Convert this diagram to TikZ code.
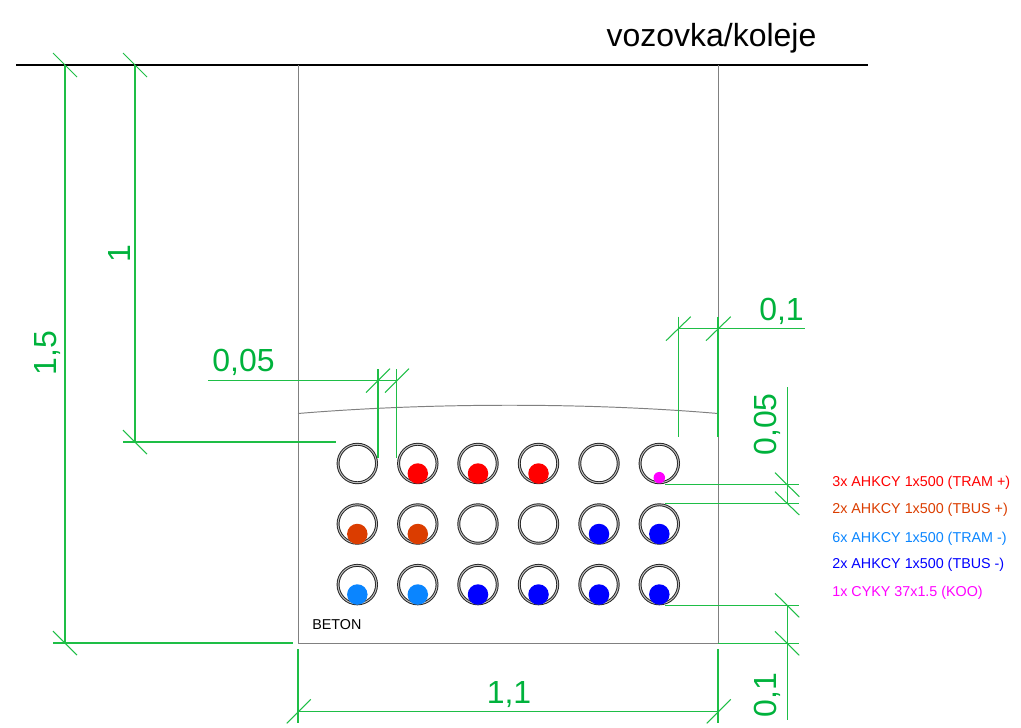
\documentclass[tikz,border=0pt]{standalone}
\usepackage{fontspec}
\setmainfont{Liberation Sans}
\definecolor{kotagreen}{RGB}{30,190,70}
\definecolor{kotatext}{RGB}{0,178,60}
\definecolor{tramplus}{RGB}{255,0,0}
\definecolor{tbusplus}{RGB}{219,61,0}
\definecolor{trammin}{RGB}{10,133,255}
\definecolor{tbusmin}{RGB}{0,0,255}
\definecolor{koo}{RGB}{255,0,255}
\begin{document}
\begin{tikzpicture}[x=0.02cm,y=-0.02cm]
\useasboundingbox (0,0) rectangle (1021,727);

\tikzstyle{outline}=[draw=black!50,line width=0.55pt]
\tikzstyle{kota}=[draw=kotagreen,line width=0.6pt]
\tikzstyle{kotatxt}=[text=kotatext,inner sep=0pt,anchor=base,font=\fontsize{18.2}{20}\selectfont]
\tikzstyle{legend}=[inner sep=0pt,anchor=base west,font=\fontsize{8.15}{10}\selectfont]
\tikzstyle{tube}=[circle,draw=black!85,double=black!25,line width=0.55pt,double distance=0.55pt,minimum size=0.77cm,inner sep=0pt]
\tikzstyle{cable}=[circle,minimum size=0.41cm,inner sep=0pt]
\tikzstyle{thin cable}=[circle,fill=koo,minimum size=0.23cm,inner sep=0pt]

%road and concrete block
\draw[line width=1.1pt] (16,65) -- (868,65) ;
\node (road) at (711.5,46) [anchor=base,inner sep=0pt,font=\fontsize{18.2}{20}\selectfont] {vozovka/koleje} ;
\draw[outline] (298,65) -- (298,643) -- (718,643) -- (718,65) ;
\draw[outline] (298,413.5) .. controls (430,402.5) and (590,402.5) .. (718,413.5) ;
\node (beton) at (312,629) [legend] {BETON} ;

%tubes
\node[tube] (t11) at (357.3,463.5) {} ; \node[tube] (t12) at (417.8,463.5) {} ; \node[tube] (t13) at (478,463.5) {} ;
\node[tube] (t14) at (538.5,463.5) {} ; \node[tube] (t15) at (599,463.5) {} ; \node[tube] (t16) at (659.3,463.5) {} ;
\node[tube] (t21) at (357.3,524) {} ; \node[tube] (t22) at (417.8,524) {} ; \node[tube] (t23) at (478,524) {} ;
\node[tube] (t24) at (538.5,524) {} ; \node[tube] (t25) at (599,524) {} ; \node[tube] (t26) at (659.3,524) {} ;
\node[tube] (t31) at (357.3,584.6) {} ; \node[tube] (t32) at (417.8,584.6) {} ; \node[tube] (t33) at (478,584.6) {} ;
\node[tube] (t34) at (538.5,584.6) {} ; \node[tube] (t35) at (599,584.6) {} ; \node[tube] (t36) at (659.3,584.6) {} ;

%cables
\node[cable,fill=tramplus] (c12) at (417.8,473.5) {} ;
\node[cable,fill=tramplus] (c13) at (478,473.5) {} ;
\node[cable,fill=tramplus] (c14) at (538.5,473.5) {} ;
\node[thin cable] (c16) at (659.3,477.7) {} ;
\node[cable,fill=tbusplus] (c21) at (357.3,534) {} ;
\node[cable,fill=tbusplus] (c22) at (417.8,534) {} ;
\node[cable,fill=tbusmin] (c25) at (599,534) {} ;
\node[cable,fill=tbusmin] (c26) at (659.3,534) {} ;
\node[cable,fill=trammin] (c31) at (357.3,594.5) {} ;
\node[cable,fill=trammin] (c32) at (417.8,594.5) {} ;
\node[cable,fill=tbusmin] (c33) at (478,594.5) {} ;
\node[cable,fill=tbusmin] (c34) at (538.5,594.5) {} ;
\node[cable,fill=tbusmin] (c35) at (599,594.5) {} ;
\node[cable,fill=tbusmin] (c36) at (659.3,594.5) {} ;

%legend
\node[legend,text=tramplus] (l1) at (832,486) {3x AHKCY 1x500 (TRAM +)} ;
\node[legend,text=tbusplus] (l2) at (832,513) {2x AHKCY 1x500 (TBUS +)} ;
\node[legend,text=trammin] (l3) at (832,542) {6x AHKCY 1x500 (TRAM -)} ;
\node[legend,text=tbusmin] (l4) at (832,568) {2x AHKCY 1x500 (TBUS -)} ;
\node[legend,text=koo] (l5) at (832,596) {1x CYKY 37x1.5 (KOO)} ;

%dimension 1,5
\draw[kota] (65,65) -- (65,643) ;
\draw[kota] (53,53) -- (77,77) ;
\draw[kota] (53,631) -- (77,655) ;
\draw[kota] (53,643) -- (293,643) ;
\node[kotatxt,rotate=90] (d15) at (56,353) {1,5} ;

%dimension 1
\draw[kota] (135,65) -- (135,442) ;
\draw[kota] (123,53) -- (147,77) ;
\draw[kota] (123,430) -- (147,454) ;
\draw[kota] (123,442) -- (336,442) ;
\node[kotatxt,rotate=90] (d1) at (130,254) {1} ;

%dimension 0,05 top
\draw[kota] (208,380.7) -- (396.7,380.7) ;
\draw[kota] (378,369) -- (378,457.7) ;
\draw[kota] (396.7,369) -- (396.7,457.7) ;
\draw[kota] (366,392.5) -- (390,368.7) ;
\draw[kota] (385,392.5) -- (409,368.7) ;
\node[kotatxt] (d005a) at (243.5,371) {0,05} ;

%dimension 0,1 top
\draw[kota] (678.3,328.3) -- (805,328.3) ;
\draw[kota] (678.3,316.7) -- (678.3,437.3) ;
\draw[kota] (718,316.7) -- (718,437.3) ;
\draw[kota] (666,340.7) -- (690.7,316.7) ;
\draw[kota] (706,340.7) -- (730.7,316.7) ;
\node[kotatxt] (d01a) at (781.5,320) {0,1} ;

%dimension 0,05 right
\draw[kota] (787.3,387.3) -- (787.3,503.3) ;
\draw[kota] (665,484.3) -- (799.3,484.3) ;
\draw[kota] (665,503.3) -- (799.3,503.3) ;
\draw[kota] (775,472.7) -- (799.3,496.7) ;
\draw[kota] (775,491.7) -- (799.3,515) ;
\node[kotatxt,rotate=90] (d005b) at (776.7,424.5) {0,05} ;

%dimension 0,1 right
\draw[kota] (787.3,605.7) -- (787.3,720) ;
\draw[kota] (665,605.7) -- (799.3,605.7) ;
\draw[kota] (718,643.3) -- (799.3,643.3) ;
\draw[kota] (775,593.3) -- (799.3,617.3) ;
\draw[kota] (775,631.3) -- (799.3,655.3) ;
\node[kotatxt,rotate=90] (d01b) at (776.7,695) {0,1} ;

%dimension 1,1
\draw[kota] (298,711.7) -- (718,711.7) ;
\draw[kota] (298,649.3) -- (298,723.3) ;
\draw[kota] (718,649.3) -- (718,723.3) ;
\draw[kota] (286.7,723.3) -- (310.7,699.3) ;
\draw[kota] (706.7,723.3) -- (730.7,699.3) ;
\node[kotatxt] (d11) at (509,703) {1,1} ;

\end{tikzpicture}
\end{document}
